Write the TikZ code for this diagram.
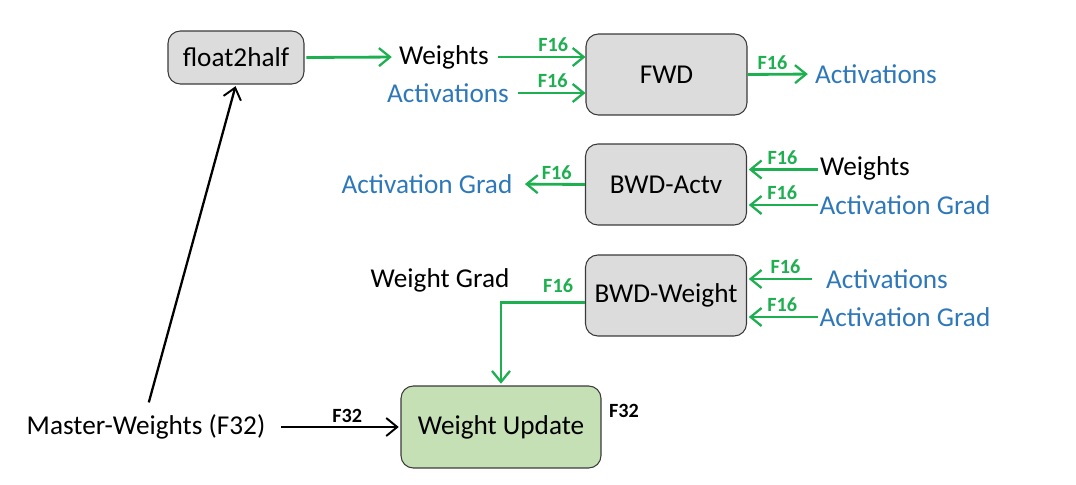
\documentclass[tikz,border=0pt]{standalone}
\usepackage{fontspec}
\setmainfont{Carlito}
\usepackage{xcolor}
\usetikzlibrary{positioning, arrows.meta, calc}
\definecolor{OpGray}{HTML}{DCDCDC}
\definecolor{OpEdge}{HTML}{3A3A3A}
\definecolor{UpdGreen}{HTML}{C5E0B4}
\definecolor{FlowGreen}{HTML}{1DAF50}
\definecolor{TxtBlue}{HTML}{2E78BA}

\tikzset{
  opbox/.style={draw=OpEdge, line width=0.6pt, fill=OpGray, rounded corners=7pt,
    minimum width=\W, minimum height=\H, font=\fontsize{15.5}{18}\selectfont},
  lbl/.style={font=\fontsize{15.5}{18}\selectfont, inner sep=1pt},
  bluelbl/.style={lbl, text=TxtBlue},
  prec/.style={font=\fontsize{11.5}{13}\selectfont\bfseries, inner sep=1pt},
  gflow/.style={draw=FlowGreen, line width=1.6pt,
    -{Straight Barb[length=2.2mm, width=3.6mm, line width=1.3pt]}},
  kflow/.style={draw=black, line width=1.3pt,
    -{Straight Barb[length=2.2mm, width=3.6mm, line width=1.1pt]}},
}

\begin{document}
\begin{tikzpicture}[x=0.02cm, y=-0.02cm]

  \def\W{3.22cm}   % op box width
  \def\H{1.62cm}   % op box height

  \useasboundingbox (0,0) rectangle (1076,484);

  %% Op boxes
  \node[opbox, minimum width=2.72cm, minimum height=1.06cm] (f2h) at (236,57.5) {float2half};
  \node[opbox] (fwd)  at (666.5,74.5) {FWD};
  \node[opbox] (bwda) at (666,184.5) {BWD-Actv};
  \node[opbox] (bwdw) at (666,295.5) {BWD-Weight};
  \node[opbox, fill=UpdGreen, minimum width=4cm, minimum height=1.64cm] (wu) at (501,427) {Weight Update};

  %% Forward pass
  \node[lbl] (fwdw) at (444,57) {Weights};
  \node[bluelbl] (fwdin) at (448,93) {Activations};
  \node[bluelbl] (fwdout) at (876,74) {Activations};
  \draw[gflow, shorten <=1pt, shorten >=3pt] (f2h.east) -- (fwdw.west);
  \draw[gflow, shorten <=4pt] (fwdw.east) -- (fwdw.east -| fwd.west)
    node[prec, text=FlowGreen, pos=0.66, above=1pt] {F16};
  \draw[gflow, shorten <=4pt] (fwdin.east) -- (fwdin.east -| fwd.west)
    node[prec, text=FlowGreen, pos=0.56, above=1pt] {F16};
  \draw[gflow, shorten >=3pt] (fwd.east) -- (fwdout.west)
    node[prec, text=FlowGreen, pos=0.38, above=1pt] {F16};

  %% Backward pass: activation gradients
  \node[bluelbl] (agout) at (427,184) {Activation Grad};
  \node[lbl] (bwdaw) at (865,168) {Weights};
  \node[bluelbl] (bwdag) at (905,205) {Activation Grad};
  \draw[gflow, shorten >=6pt] (bwda.west) -- (agout.east)
    node[prec, text=FlowGreen, pos=0.4, above=1pt] {F16};
  \draw[gflow, shorten >=1pt] (bwdaw.west |- bwda.east) ++(0,-15) coordinate (aw0)
    (aw0) -- (aw0 -| bwda.east)
    node[prec, text=FlowGreen, midway, above=1pt] {F16};
  \draw[gflow, shorten >=1pt] (bwdag.west) -- (bwdag.west -| bwda.east)
    node[prec, text=FlowGreen, midway, above=1pt] {F16};

  %% Backward pass: weight gradients
  \node[lbl] (wgrad) at (440,280) {Weight Grad};
  \node[bluelbl] (bwdwa) at (887,279) {Activations};
  \node[bluelbl] (bwdwg) at (905,317) {Activation Grad};
  \draw[gflow, shorten <=7pt, shorten >=1pt] (bwdwa.west) -- (bwdwa.west -| bwdw.east)
    node[prec, text=FlowGreen, pos=0.5, above=1pt] {F16};
  \draw[gflow, shorten >=1pt] (bwdwg.west) -- (bwdwg.west -| bwdw.east)
    node[prec, text=FlowGreen, midway, above=1pt] {F16};
  \draw[gflow, shorten >=1pt] ([yshift=-4]bwdw.west) -| (wu.north)
    node[prec, text=FlowGreen, pos=0.16, above=4pt] {F16};

  %% Master weights
  \node[lbl] (mw) at (146,427) {Master-Weights (F32)};
  \draw[kflow, shorten <=8pt, shorten >=1pt] (mw.east) -- (wu.west)
    node[prec, pos=0.6, above=1pt] {F32};
  \draw[kflow, shorten <=6pt, shorten >=1pt] (mw.north) -- (f2h.south);
  \node[prec] (wuout) at (624,411) {F32};

\end{tikzpicture}
\end{document}
